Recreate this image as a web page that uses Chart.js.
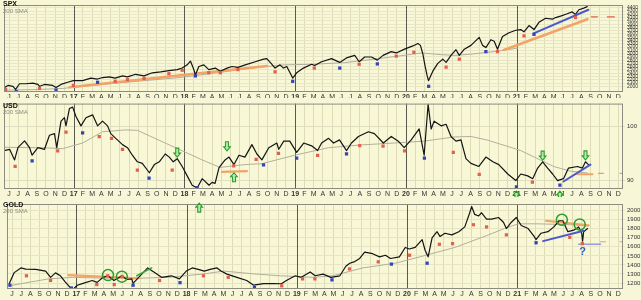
<!DOCTYPE html>
<html><head><meta charset="utf-8">
<script src="https://cdn.jsdelivr.net/npm/chart.js"></script>
<style>
html,body{margin:0;padding:0;background:#f7f7d8;width:641px;height:300px;overflow:hidden;}
.pane{position:absolute;left:0;width:641px;}
canvas{display:block;}
.ttl{position:absolute;left:3px;font:bold 7px "Liberation Sans",Arial,sans-serif;color:#111;line-height:7px;z-index:5;}
.sub{position:absolute;left:3px;font:6px "Liberation Sans",Arial,sans-serif;color:#8a8a80;line-height:6px;z-index:5;}
</style></head><body>
<div class="pane" style="top:0;height:98px"><canvas id="c1" width="641" height="98"></canvas></div>
<div class="pane" style="top:98px;height:99px"><canvas id="c2" width="641" height="99"></canvas></div>
<div class="pane" style="top:197px;height:103px"><canvas id="c3" width="641" height="103"></canvas></div>
<div class="ttl" style="top:0px">SPX</div><div class="sub" style="top:8px">200 SMA</div>
<div class="ttl" style="top:102px">USD</div><div class="sub" style="top:109px">200 SMA</div>
<div class="ttl" style="top:201px">GOLD</div><div class="sub" style="top:208px">200 SMA</div>
<script>
// x values are months counted from Jan 2016 (12 = Jan 2017, 24 = Jan 2018 ...)
const monthLetters = ['J','F','M','A','M','J','J','A','S','O','N','D'];
const xTickVals = [5,6,7,8,9,10,11,12,13,14,15,16,17,18,19,20,21,22,23,24,25,26,27,28,29,30,31,32,33,34,35,36,37,38,39,40,41,42,43,44,45,46,47,48,49,50,51,52,53,54,55,56,57,58,59,60,61,62,63,64,65,66,67,68,69,70,71];

// ---------- SPX ----------
const spxTicks = [2000,2100,2200,2300,2400,2500,2600,2700,2800,2900,3000,3100,3200,3300,3400,3500,3600,3700,3800,3900,4000,4100,4200,4300,4400];
const spxPrice = [[4.52,1962],[4.88,2028],[5.42,2000],[5.71,1904],[6.14,2078],[6.82,2078],[7.58,2095],[8.12,2057],[8.30,2000],[8.84,2057],[9.73,2028],[10.09,1962],[10.63,2057],[11.35,2124],[11.97,2173],[12.97,2173],[13.87,2251],[14.59,2222],[15.13,2268],[15.85,2289],[16.50,2251],[17.29,2317],[17.83,2289],[18.72,2367],[19.63,2317],[20.52,2413],[21.42,2442],[22.32,2482],[23.22,2511],[23.76,2557],[24.30,2656],[24.65,2771],[25.02,2511],[25.19,2346],[25.56,2606],[26.10,2656],[26.64,2511],[27.35,2557],[27.89,2462],[28.61,2557],[29.15,2606],[29.80,2578],[30.59,2656],[31.67,2751],[32.57,2829],[32.93,2846],[33.39,2702],[33.82,2557],[34.36,2656],[34.73,2557],[35.09,2606],[35.44,2413],[35.73,2251],[36.16,2413],[36.89,2557],[37.78,2673],[38.11,2635],[38.86,2751],[39.94,2846],[40.83,2731],[41.56,2867],[42.45,2945],[42.93,2751],[43.53,2895],[44.26,2895],[44.90,2800],[45.52,2945],[46.41,3060],[46.95,3020],[47.85,3135],[48.75,3234],[49.29,3309],[49.57,3251],[49.83,2991],[50.08,2606],[50.30,2317],[50.44,2173],[50.91,2462],[51.45,2702],[51.99,2829],[52.35,2731],[52.88,2945],[53.42,3118],[53.78,2945],[54.32,3135],[55.04,3251],[55.94,3494],[56.30,3251],[56.66,3184],[57.20,3424],[57.56,3378],[57.92,3135],[58.46,3523],[59.17,3638],[59.90,3713],[60.44,3734],[60.79,3667],[61.33,3858],[61.87,3734],[62.41,3956],[63.13,4080],[63.86,4052],[64.21,4101],[64.75,4147],[65.47,4216],[66.01,4274],[66.37,4196],[66.73,4340],[67.26,4390],[67.63,4436]];
const spxSma = [[4.45,1884],[7.58,1898],[10.81,1933],[12,1971],[17.29,2115],[23.76,2274],[28.07,2433],[31.31,2563],[34.87,2656],[37.78,2673],[41.34,2722],[45.01,2846],[48.57,2974],[49.65,3020],[51.81,2968],[53.21,2945],[55.04,2982],[56.88,3040],[58.28,3089],[59.36,3135],[60.11,3170]];
const spxRed = [[4.63,1904],[8.30,1933],[11.97,2028],[16.50,2153],[17.83,2202],[19.63,2239],[22.32,2384],[23.76,2491],[26.64,2413],[27.89,2413],[29.80,2511],[33.82,2442],[38.07,2557],[42.93,2673],[46.95,2924],[48.86,3040],[52.35,2586],[53.78,2829],[57.92,3060],[60.79,3540],[66.37,4101]];
const spxBlue = [[5.78,1841],[10.09,1884],[14.59,2124],[25.19,2317],[35.73,2153],[40.83,2557],[44.90,2685],[50.46,2000],[56.66,3060],[61.87,3589]];
const spxOrange1 = [[11.57,1971],[32.93,2621]];
const spxOrange2 = [[58.60,3112],[67.66,4052]];
const spxBlueLine = [[61.84,3618],[67.77,4340]];
const spxDash1 = [[68.09,4124],[68.74,4124]];
const spxDash2 = [[69.82,4124],[70.58,4124]];

// ---------- USD ----------
const usdTicks = [89,90,91,92,93,94,95,96,97,98,99,100,101,102,103,104];
const usdLabels = [90,100];
const usdPrice = [[4.45,95.58],[5.06,95.81],[5.60,93.84],[5.96,96.11],[6.68,97.38],[7.22,96.11],[7.50,94.71],[8.12,96.11],[8.84,95.81],[9.38,98.43],[9.92,98.73],[10.17,96.11],[10.63,101.05],[11.00,101.69],[11.17,100.17],[11.54,103.39],[11.89,103.66],[12.25,101.92],[12.79,100.17],[13.33,101.69],[14.05,102.22],[14.59,100.17],[15.13,101.05],[15.67,100.17],[16.02,98.73],[16.56,97.85],[17.29,96.68],[17.83,96.11],[18.36,94.71],[18.90,93.49],[19.44,93.19],[20.20,91.45],[20.74,92.97],[21.28,93.49],[21.92,94.94],[22.36,94.36],[22.79,93.49],[23.22,94.07],[23.76,92.62],[24.30,90.87],[24.84,89.13],[25.38,88.60],[25.92,90.35],[26.67,89.13],[26.99,89.65],[27.32,89.48],[27.75,92.40],[28.40,93.84],[28.83,94.36],[29.37,92.97],[29.91,94.71],[30.55,94.36],[31.31,96.68],[31.85,94.94],[32.39,93.84],[33.14,96.11],[34.01,96.98],[34.22,95.81],[34.76,97.33],[35.41,97.33],[36.16,95.23],[36.92,96.98],[37.78,96.46],[38.43,95.58],[38.86,96.98],[39.62,97.85],[40.16,96.98],[40.80,97.56],[41.56,95.58],[42.10,96.98],[42.85,98.20],[43.93,99.07],[44.58,98.73],[45.55,96.98],[46.41,98.20],[47.17,97.33],[47.81,96.11],[48.57,97.56],[49.43,99.60],[49.97,94.71],[50.40,104.2],[50.73,99.60],[51.05,101.05],[51.81,100.17],[52.35,100.47],[52.88,98.20],[53.42,97.33],[53.96,97.56],[54.50,94.07],[55.04,93.19],[55.90,92.62],[56.66,94.36],[57.42,93.49],[58.06,92.97],[59.03,91.22],[59.90,90.00],[60.44,91.22],[61.19,90.87],[61.73,90.35],[62.27,92.32],[62.81,93.49],[63.35,92.32],[63.89,91.22],[64.43,90.00],[65.07,90.35],[65.61,92.32],[66.58,92.62],[67.12,92.32],[67.45,93.49],[67.77,92.97]];
const usdSma = [[4.45,96.19],[8.66,96.11],[10.81,95.93],[12.97,96.98],[15.13,99.07],[17.61,99.42],[18.90,99.34],[22.36,96.63],[25.92,93.84],[27.86,92.44],[30.55,92.97],[32.39,93.14],[35.95,94.71],[39.62,96.11],[43.18,96.63],[46.74,96.98],[49.97,97.33],[53.21,98.11],[55.04,98.20],[56.88,97.50],[60.44,95.58],[64.00,92.62],[65.83,91.74],[67.66,91.40]];
const usdRed = [[5.66,92.62],[10.27,95.53],[11.17,99.02],[14.77,98.15],[16.10,97.85],[17.29,95.81],[18.90,91.92],[22.68,91.92],[29.34,92.74],[31.77,93.96],[34.19,95.06],[38.43,94.66],[42.99,96.51],[45.52,96.40],[47.85,95.53],[53.13,95.23],[55.94,91.17],[61.70,89.70]];
const usdBlue = [[7.50,93.66],[12.97,98.85],[20.17,90.47],[25.38,88.70],[32.57,92.91],[36.16,94.19],[41.56,94.94],[50.00,94.19],[59.97,88.83],[64.68,89.13]];
const usdOrange1 = [[28.07,91.60],[30.77,91.74]];
const usdOrange2 = [[66.58,91.17],[68.20,91.17]];
const usdBlueLine = [[65.07,89.82],[67.99,92.97]];
const usdDash1 = [[68.85,91.34],[69.39,91.34]];
const usdDash2 = [[71.2,91.34],[71.5,91.34]];
const usdArrowsDown = [[23.22,94.36],[28.61,95.53],[62.81,93.79],[67.45,93.84]];
const usdArrowsUp = [[29.37,91.45],[59.97,88.05],[64.68,88.05]];

// ---------- GOLD ----------
const goldTicks = [1200,1300,1400,1500,1600,1700,1800,1900,2000];
const goldPrice = [[4.70,1194],[5.24,1315],[5.96,1367],[6.50,1353],[7.58,1350],[8.66,1332],[9.20,1263],[9.73,1312],[10.27,1280],[10.81,1210],[11.57,1124],[12.11,1176],[12.65,1194],[13.73,1228],[14.27,1207],[14.91,1263],[15.45,1280],[16.10,1228],[16.96,1280],[17.50,1239],[18.04,1246],[18.18,1197],[19.12,1298],[19.77,1367],[20.52,1315],[21.28,1263],[22.36,1280],[23.22,1246],[23.97,1332],[24.62,1367],[25.38,1348],[25.92,1332],[26.67,1353],[27.32,1367],[27.75,1332],[28.40,1298],[29.48,1263],[30.55,1228],[31.31,1176],[32.39,1194],[33.47,1194],[34.33,1192],[34.87,1228],[35.84,1280],[36.49,1263],[37.46,1322],[38.00,1280],[38.86,1298],[39.72,1263],[40.69,1280],[41.34,1385],[41.77,1419],[42.31,1437],[42.85,1471],[43.39,1541],[44.26,1524],[45.01,1489],[45.66,1507],[46.20,1471],[47.17,1489],[47.81,1593],[48.25,1576],[48.89,1593],[49.65,1680],[49.97,1562],[50.30,1489],[50.73,1698],[51.27,1767],[51.59,1715],[52.13,1750],[52.88,1732],[53.64,1767],[54.29,1820],[54.83,1976],[55.04,2045],[55.37,1958],[55.80,1941],[56.12,1976],[56.66,1906],[57.20,1906],[57.96,1924],[58.50,1872],[58.82,1802],[59.36,1872],[59.90,1924],[60.44,1836],[61.19,1802],[61.84,1715],[62.05,1680],[62.59,1750],[63.35,1767],[63.99,1820],[64.54,1888],[64.97,1888],[65.51,1767],[66.15,1784],[66.69,1820],[67.02,1750],[67.12,1663],[67.23,1767],[67.66,1802]];
const goldSma = [[4.66,1169],[8.98,1246],[11.57,1263],[15.13,1254],[18.69,1252],[22.36,1265],[25.92,1301],[28.07,1332],[31.31,1301],[34.22,1280],[37.78,1263],[39.94,1280],[43.18,1367],[46.74,1419],[49.65,1496],[53.21,1593],[56.88,1732],[58.60,1802],[60.11,1854],[62.27,1854],[65.83,1844],[67.66,1830]];
const goldRed = [[6.57,1280],[9.20,1228],[14.23,1183],[15.42,1280],[16.13,1183],[16.99,1273],[21.06,1228],[25.84,1280],[28.54,1263],[34.36,1169],[36.63,1246],[37.97,1246],[41.74,1356],[44.87,1434],[48.28,1507],[51.52,1628],[52.96,1635],[55.23,1844],[56.66,1820],[58.82,1732],[65.72,1705],[67.09,1635]];
const goldBlue = [[4.77,1176],[11.46,1145],[18.18,1176],[23.29,1204],[31.39,1150],[39.83,1235],[46.30,1409],[50.19,1419],[62.05,1645]];
const goldOrange1 = [[11.14,1288],[18.69,1252]];
const goldGreenLine = [[18.58,1280],[20.20,1367]];
const goldOrange2 = [[63.13,1888],[67.77,1836]];
const goldBlueLine = [[62.81,1663],[67.23,1778]];
const goldCircles = [[15.45,1288],[16.96,1270],[64.86,1899],[66.80,1847]];
const goldLevel = [[66.69,1628],[69.07,1628]];
const goldDash1 = [[69.07,1656],[69.60,1656]];
const goldDash2 = [[71.2,1656],[71.5,1656]];
const goldArrowsUp = [[25.38,2083]];
const goldText = [[67.12,1541,'?']];

// ---------- helpers ----------
const FONT = '"Liberation Sans", Arial, sans-serif';
const X_MIN = 4.453, X_MAX = 71.515;
const toXY = a => a.map(p => ({x:p[0], y:p[1]}));
const line = (pts, color, w, order) => ({type:'line', data:toXY(pts), borderColor:color, borderWidth:w, pointRadius:0, fill:false, tension:0, order, borderCapStyle:'round', borderJoinStyle:'round'});
const marks = (pts, color) => ({type:'line', showLine:false, data:toXY(pts), pointStyle:'rect', pointRadius:2.3, backgroundColor:color, borderColor:color, borderWidth:0, order:0});
const rings = pts => ({type:'line', showLine:false, data:toXY(pts), pointStyle:'circle', pointRadius:5.5, backgroundColor:'rgba(0,0,0,0)', borderColor:'#2e9c2e', borderWidth:1.5, order:0});

function drawArrow(ctx, x, y, dir){
  const hw=3.3, sw=1.5, hh=4, L=9;
  ctx.beginPath();
  ctx.moveTo(x, y);
  ctx.lineTo(x-hw, y-dir*hh); ctx.lineTo(x-sw, y-dir*hh); ctx.lineTo(x-sw, y-dir*L);
  ctx.lineTo(x+sw, y-dir*L); ctx.lineTo(x+sw, y-dir*hh); ctx.lineTo(x+hw, y-dir*hh);
  ctx.closePath();
  ctx.fillStyle='#b4ecb0'; ctx.fill();
  ctx.strokeStyle='#2e9c2e'; ctx.lineWidth=1.1; ctx.stroke();
}

const panelPlugin = {
  id:'panel',
  beforeDraw(chart){
    const {ctx, chartArea:a} = chart;
    ctx.save();
    ctx.fillStyle='#f7f7d8'; ctx.fillRect(0,0,chart.width,chart.height);
    ctx.fillStyle='#f8f8d6'; ctx.fillRect(a.left,a.top,a.right-a.left,a.bottom-a.top);
    ctx.restore();
  },
  beforeDatasetsDraw(chart){
    const {ctx, chartArea:a, scales:{x}} = chart;
    ctx.save();
    ctx.strokeStyle='#5a5a52'; ctx.lineWidth=1;
    xTickVals.filter(v => v%12===0).forEach(v => {
      const px = Math.round(x.getPixelForValue(v)) + 0.5;
      ctx.beginPath(); ctx.moveTo(px, a.top); ctx.lineTo(px, a.bottom); ctx.stroke();
    });
    ctx.restore();
  },
  afterDraw(chart, args, opts){
    const {ctx, chartArea:a, scales:{x,y}} = chart;
    ctx.save();
    ctx.strokeStyle='#8c8c80'; ctx.lineWidth=1;
    ctx.strokeRect(a.left+0.5, a.top+0.5, a.right-a.left-1, a.bottom-a.top-1);
    (opts.down||[]).forEach(p => drawArrow(ctx, x.getPixelForValue(p[0]), y.getPixelForValue(p[1]), 1));
    (opts.up||[]).forEach(p => drawArrow(ctx, x.getPixelForValue(p[0]), y.getPixelForValue(p[1]), -1));
    (opts.texts||[]).forEach(t => {
      ctx.font='bold 11px '+FONT; ctx.fillStyle='#3b5cae'; ctx.textAlign='center'; ctx.textBaseline='middle';
      ctx.fillText(t[2], x.getPixelForValue(t[0]), y.getPixelForValue(t[1]));
    });
    ctx.restore();
  }
};

function xScale(h){
  return {type:'linear', min:X_MIN, max:X_MAX,
    afterBuildTicks: s => { s.ticks = xTickVals.map(v => ({value:v})); },
    afterFit: s => { s.height = h; },
    ticks:{autoSkip:false, maxRotation:0, minRotation:0, padding:1, color:'#333',
      font: c => ({family:FONT, size:7, weight:(c.tick && c.tick.value%12===0)?'bold':'normal'}),
      callback: v => v%12===0 ? String(16+v/12) : monthLetters[v%12]},
    grid:{drawTicks:false, color: c => (c.tick && c.tick.value%12===0)?'rgba(0,0,0,0)':'#dddcb6', lineWidth:1},
    border:{display:false}
  };
}
function yScale(min, max, ticks, labels, fsize, gcolor){
  return {type:'linear', position:'right', min, max,
    afterBuildTicks: s => { s.ticks = ticks.map(v => ({value:v})); },
    afterFit: s => { s.width = 18; },
    ticks:{autoSkip:false, padding:2, color:'#333', font:{family:FONT, size:fsize},
      callback: v => labels.includes(v) ? String(v) : ''},
    grid:{color:gcolor, drawTicks:true, tickLength:2, lineWidth:1},
    border:{display:false}
  };
}
function makeChart(id, datasets, y, xh, pad, annot){
  return new Chart(document.getElementById(id), {
    type:'line',
    data:{datasets},
    options:{responsive:false, animation:false, devicePixelRatio:1, events:[],
      layout:{padding:{left:1, right:0, top:pad[0], bottom:pad[1]}},
      plugins:{legend:{display:false}, tooltip:{enabled:false}, title:{display:false}, panel:annot},
      scales:{x:xScale(xh), y}
    },
    plugins:[panelPlugin]
  });
}

makeChart('c1', [
  marks(spxRed,'#e4604c'), marks(spxBlue,'#3343b8'),
  line(spxBlueLine,'#4a58cc',2,1), line(spxDash1,'#e06050',1.2,1), line(spxDash2,'#e06050',1.2,1),
  line(spxPrice,'#141414',1.2,2),
  line(spxOrange1,'#f2a468',2.6,3), line(spxOrange2,'#f2a468',2.6,3),
  line(spxSma,'#b3ae9c',1,4)
], yScale(1826, 4485, spxTicks, spxTicks, 5, '#e8e6c8'), 6, [0,0], {});

makeChart('c2', [
  marks(usdRed,'#e4604c'), marks(usdBlue,'#3343b8'),
  line(usdBlueLine,'#4a58cc',2,1), line(usdDash1,'#e89a70',1.2,1), line(usdDash2,'#e89a70',1.2,1),
  line(usdPrice,'#141414',1.2,2),
  line(usdOrange1,'#f2a468',2.2,3), line(usdOrange2,'#f2a468',2.2,3),
  line(usdSma,'#b3ae9c',1,4)
], yScale(88.43, 104.31, usdTicks, usdLabels, 6, c => usdLabels.includes(c.tick && c.tick.value) ? '#e0dec0' : 'rgba(0,0,0,0)'), 8, [0,0], {down:usdArrowsDown, up:usdArrowsUp});

makeChart('c3', [
  marks(goldRed,'#e4604c'), marks(goldBlue,'#3343b8'), rings(goldCircles),
  line(goldBlueLine,'#4a58cc',2,1), line(goldGreenLine,'#3aa83a',1.6,1), line(goldLevel,'#9a9ad6',1.5,1),
  line(goldDash1,'#e89a70',1.2,1), line(goldDash2,'#e89a70',1.2,1),
  line(goldPrice,'#141414',1.2,2),
  line(goldOrange1,'#f2a468',2.2,3), line(goldOrange2,'#f2a468',2.2,3),
  line(goldSma,'#b3ae9c',1,4)
], yScale(1134, 2073, goldTicks, goldTicks, 6, '#e6e4c4'), 8, [2,3], {up:goldArrowsUp, texts:goldText});
</script>
</body></html>
